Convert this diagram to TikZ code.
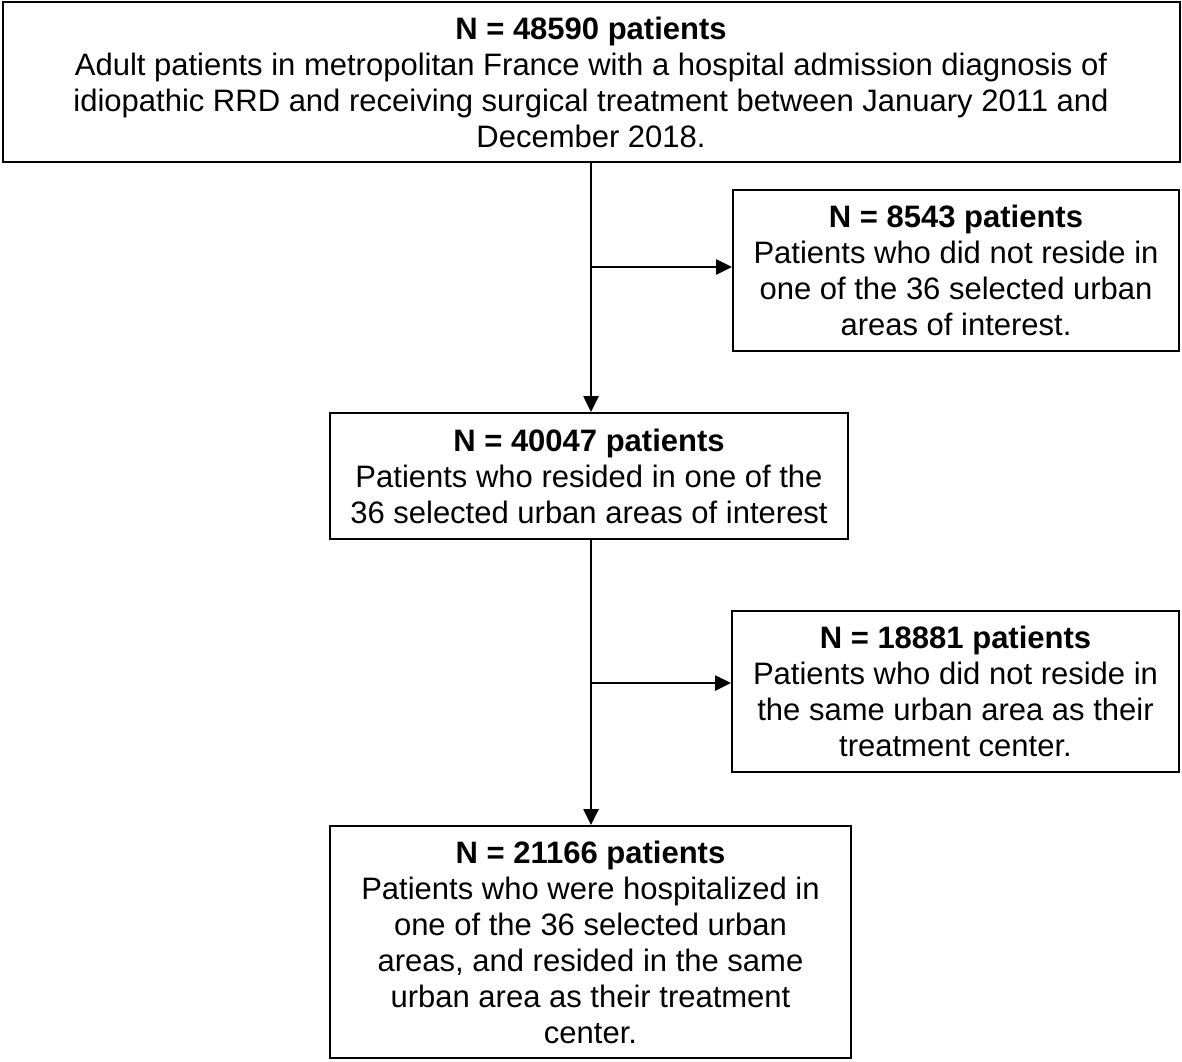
\documentclass[tikz,border=0pt]{standalone}
\usepackage{fontspec}
\setmainfont{Liberation Sans}
\usetikzlibrary{arrows.meta}
\begin{document}
\begin{tikzpicture}[x=1pt,y=-1pt,
  boxstyle/.style={draw=black,line width=2pt,inner sep=0pt,align=center,
    font=\fontsize{31}{36}\selectfont},
  arr/.style={line width=2.6pt,-{Triangle[length=16pt,width=15pt]}}]
\useasboundingbox (0,0) rectangle (1182,1061);
\node[boxstyle,minimum width=1177pt,minimum height=160pt] (top) at (591,82)
  {\textbf{N = 48590 patients}\\Adult patients in metropolitan France with a hospital admission diagnosis of\\idiopathic RRD and receiving surgical treatment between January 2011 and\\December 2018.};
\node[boxstyle,minimum width=446pt,minimum height=161pt] (b2) at (956,270.5)
  {\textbf{N = 8543 patients}\\Patients who did not reside in\\one of the 36 selected urban\\areas of interest.};
\node[boxstyle,minimum width=518pt,minimum height=126pt] (b3) at (589,476)
  {\textbf{N = 40047 patients}\\Patients who resided in one of the\\36 selected urban areas of interest};
\node[boxstyle,minimum width=447pt,minimum height=161pt] (b4) at (955.5,691.5)
  {\textbf{N = 18881 patients}\\Patients who did not reside in\\the same urban area as their\\treatment center.};
\node[boxstyle,minimum width=521pt,minimum height=232pt] (b5) at (590.5,942)
  {\textbf{N = 21166 patients}\\Patients who were hospitalized in\\one of the 36 selected urban\\areas, and resided in the same\\urban area as their treatment\\center.};
\coordinate (j1) at (591,267);
\coordinate (j2) at (591,683);
\draw[arr] (top.south) -- (b3.north -| top.south);
\draw[arr] (j1) -- (j1 -| b2.west);
\draw[arr] (b3.south -| top.south) -- (b5.north -| top.south);
\draw[arr] (j2) -- (j2 -| b4.west);
\end{tikzpicture}
\end{document}
